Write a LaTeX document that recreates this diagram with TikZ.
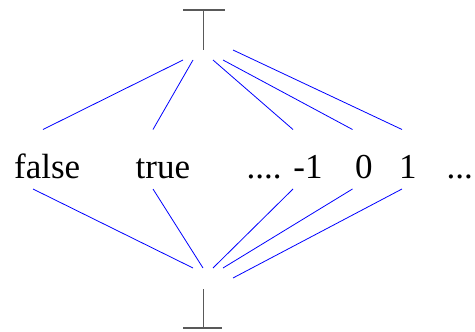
\documentclass[tikz,border=0pt]{standalone}
\usepackage{fontspec}
\setmainfont{Liberation Serif}
\begin{document}
\begin{tikzpicture}[x=1pt,y=-1pt,
  lbl/.style={anchor=base west,inner sep=0pt,font=\fontsize{35}{42}\selectfont},
  edge/.style={draw=blue,line width=0.8pt},
  bar/.style={draw=black!65,line width=1.3pt}]
\useasboundingbox (0,0) rectangle (475,332);
% top and bottom symbols
\coordinate (tl) at (183,10); \coordinate (tr) at (225,10);
\coordinate (tm) at (203.5,10); \coordinate (tb) at (203.5,50);
\draw[bar] (tl) -- (tr); \draw[bar] (tm) -- (tb);
\coordinate (bl) at (183,328); \coordinate (br) at (222,328);
\coordinate (bm) at (203.5,328); \coordinate (bt) at (203.5,289);
\draw[bar] (bl) -- (br); \draw[bar] (bm) -- (bt);
% labels
\node[lbl] (false) at (14,178) {false};
\node[lbl] (true) at (135.5,178) {true};
\node[lbl] (m1) at (246.5,178) {.... -1};
\node[lbl] (zero) at (355,178) {0};
\node[lbl] (one) at (399,178) {1};
\node[lbl] (dots) at (446.5,178) {...};
% upper line ends
\coordinate (u1) at (183,60);  \coordinate (a1) at (43,129.5);
\coordinate (u2) at (193,60);  \coordinate (a2) at (153,129.5);
\coordinate (u3) at (213,60);  \coordinate (a3) at (293,129.5);
\coordinate (u4) at (223,60);  \coordinate (a4) at (352.5,129.5);
\coordinate (u5) at (233,50);  \coordinate (a5) at (402,129.5);
\draw[edge] (u1) -- (a1); \draw[edge] (u2) -- (a2); \draw[edge] (u3) -- (a3);
\draw[edge] (u4) -- (a4); \draw[edge] (u5) -- (a5);
% lower line ends
\coordinate (b1) at (33,189);  \coordinate (l1) at (193,268);
\coordinate (b2) at (153,189); \coordinate (l2) at (203,268);
\coordinate (b3) at (293,189); \coordinate (l3) at (213,268);
\coordinate (b4) at (352.5,189); \coordinate (l4) at (223,268);
\coordinate (b5) at (402,189); \coordinate (l5) at (233,278);
\draw[edge] (b1) -- (l1); \draw[edge] (b2) -- (l2); \draw[edge] (b3) -- (l3);
\draw[edge] (b4) -- (l4); \draw[edge] (b5) -- (l5);
\end{tikzpicture}
\end{document}
